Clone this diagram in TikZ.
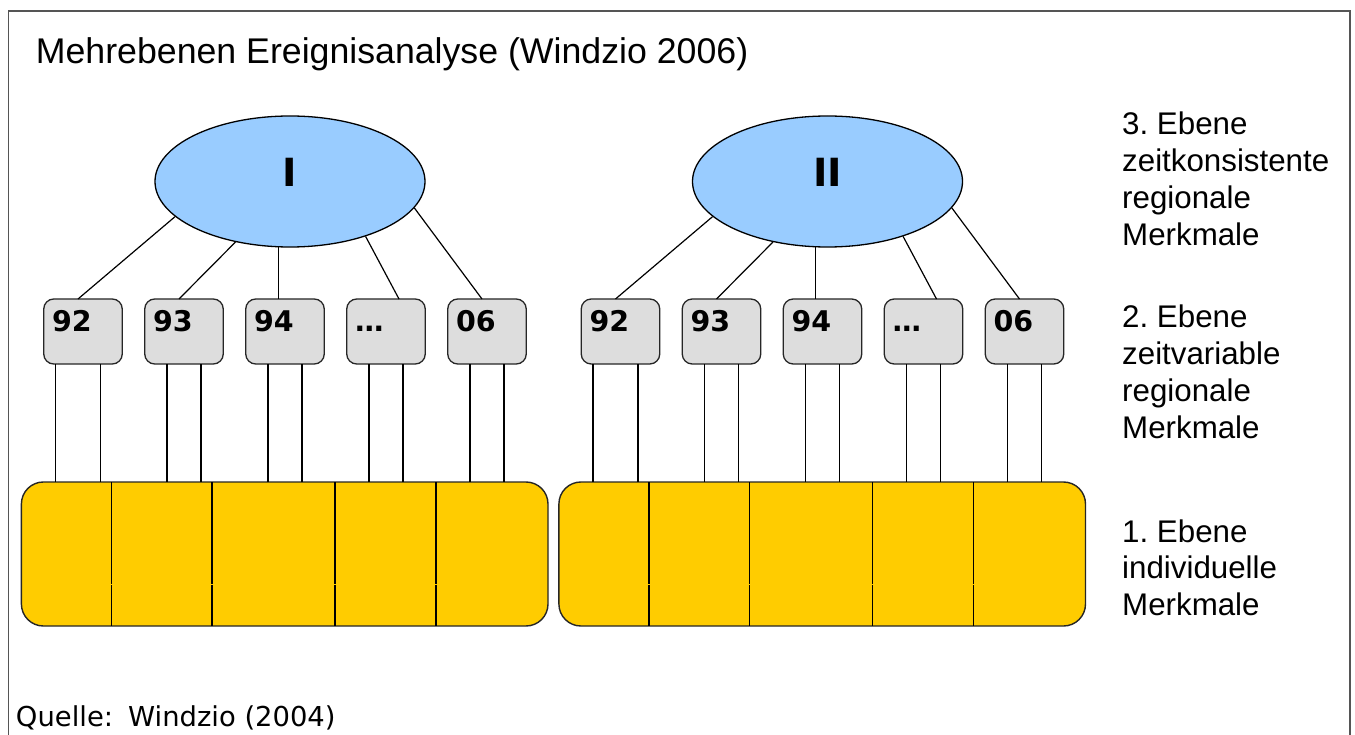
\documentclass[tikz,border=0pt]{standalone}
\usepackage{fontspec}
\setmainfont{Liberation Sans}
\newfontfamily\djv{DejaVu Sans}
\usetikzlibrary{shapes.geometric,calc}
\definecolor{ellblue}{HTML}{99CCFF}
\definecolor{boxgray}{HTML}{DDDDDD}
\definecolor{baryellow}{HTML}{FFCC00}
\definecolor{framegray}{HTML}{555555}
\frenchspacing
\begin{document}
\begin{tikzpicture}[x=1pt,y=-1pt,
  ell/.style={ellipse, draw=black, line width=1.3pt, fill=ellblue, minimum width=270pt, minimum height=131pt, inner sep=0pt},
  elltxt/.style={font=\djv\bfseries\fontsize{38.8}{40}\selectfont, inner sep=0pt},
  gbox/.style={draw=black!85, line width=1.3pt, fill=boxgray, rounded corners=10pt, minimum width=78.5pt, minimum height=65pt, inner sep=0pt, outer sep=0pt},
  boxtxt/.style={font=\djv\bfseries\fontsize{28.5}{30}\selectfont, inner sep=0pt, anchor=base west},
  ybar/.style={draw=black!85, line width=1.4pt, fill=baryellow, rounded corners=22pt, minimum width=526.6pt, minimum height=144pt, inner sep=0pt, outer sep=0pt},
  conn/.style={line width=1.2pt, black},
  vconn/.style={line width=1.7pt, black},
  divider/.style={line width=1.7pt, black},
  rtxt/.style={font=\fontsize{31.3}{36.8}\selectfont, inner sep=0pt, anchor=base west},
]
\useasboundingbox (0,0) rectangle (1355,735);
\fill[white] (0,0) rectangle (1355,735);
% frame
\draw[framegray, line width=1.5pt] (8.5,740) -- (8.5,11) -- (1350,11) -- (1350,740);
% title
\node[font=\fontsize{35.7}{40}\selectfont, anchor=base west, inner sep=0pt] (title) at (35.7,63.3) {Mehrebenen Ereignisanalyse (Windzio 2006)};
% groups
\foreach \g/\dx/\lab in {1/0/I, 2/537.5/II} {
  \begin{scope}[xshift=\dx pt]
    \node[ybar] (Y\g) at (284.7,554) {};
    \foreach \dv in {111.4,212,335,436} {
      \draw[divider] (\dv,482) -- (\dv,583.5) (\dv,584.5) -- (\dv,626);
    }
    \node[ell] (E\g) at (290,181.5) {};
    \node[elltxt] (L\g) at (290,172) {\lab};
    \foreach \k/\cx/\t/\ang/\tx/\va/\vb in {1/83/92/197.7/-5/-27.5/17.5, 2/184/93/228.9/-5/-17/17, 3/285/94/260.5/0/-17/17, 4/386/\ldots/324.4/13/-17/17, 5/487/06/348.4/-5/-17/17} {
      \node[gbox] (B\g\k) at (\cx,331.5) {};
      \node[boxtxt] (T\g\k) at ($(B\g\k.north west)+(8.2,32.7)$) {\t};
      \coordinate (va\g\k) at ($(B\g\k.south)+(\va,0)$);
      \coordinate (vb\g\k) at ($(B\g\k.south)+(\vb,0)$);
      \draw[vconn] (va\g\k) -- (va\g\k |- Y\g.north);
      \draw[vconn] (vb\g\k) -- (vb\g\k |- Y\g.north);
      \ifnum\k=3
        \draw[conn] (E\g.\ang) -- (E\g.\ang |- B\g\k.north);
      \else
        \coordinate (top\g\k) at ($(B\g\k.north)+(\tx,0)$);
        \draw[conn] (E\g.\ang) -- (top\g\k);
      \fi
    }
  \end{scope}
}
% right side texts
\foreach \t [count=\i] in {3. Ebene, zeitkonsistente, regionale, Merkmale}
  \node[rtxt] (ra\i) at (1122,{135+36.8*(\i-1)}) {\t};
\foreach \t [count=\i] in {2. Ebene, zeitvariable, regionale, Merkmale}
  \node[rtxt] (rb\i) at (1122,{328+36.8*(\i-1)}) {\t};
\foreach \t [count=\i] in {1. Ebene, individuelle, Merkmale}
  \node[rtxt] (rc\i) at (1122,{542+36.8*(\i-1)}) {\t};
% source
\node[font=\djv\fontsize{27.4}{30}\selectfont, anchor=base west, inner sep=0pt] (src) at (15.8,726) {Quelle:\hspace{0.55em}Windzio (2004)};
\end{tikzpicture}
\end{document}
